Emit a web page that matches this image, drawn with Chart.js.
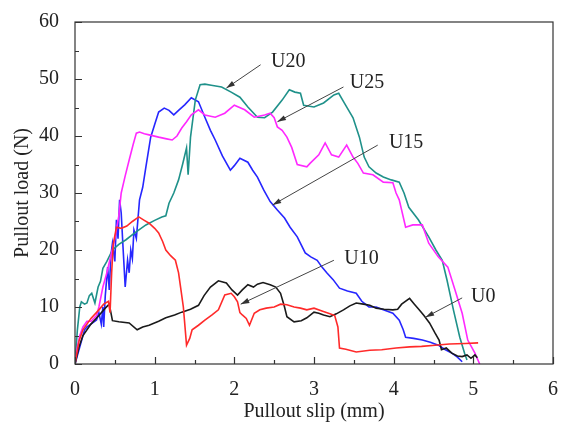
<!DOCTYPE html>
<html>
<head>
<meta charset="utf-8">
<script src="https://cdn.jsdelivr.net/npm/chart.js@4/dist/chart.umd.min.js"></script>
<style>
  html, body { margin: 0; padding: 0; background: #fff; }
  canvas { display: block; }
</style>
</head>
<body>
<canvas id="pullChart" width="564" height="426"></canvas>
<script>
// slip (mm) / load (N)
const u0Slip = [0, 0.05, 0.1, 0.2, 0.3, 0.38, 0.43, 0.47, 0.55, 0.68, 0.78, 0.85, 0.93, 1.05, 1.14, 1.25, 1.34, 1.45, 1.55, 1.62, 1.7, 1.8, 1.9, 1.97, 2.04, 2.1, 2.17, 2.24, 2.29, 2.36, 2.45, 2.52, 2.58, 2.63, 2.66, 2.75, 2.84, 2.91, 3.0, 3.06, 3.12, 3.2, 3.28, 3.37, 3.45, 3.53, 3.62, 3.7, 3.78, 3.88, 3.99, 4.05, 4.1, 4.2, 4.26, 4.32, 4.38, 4.45, 4.52, 4.57, 4.6, 4.66, 4.73, 4.8, 4.86, 4.92, 4.97, 5.02, 5.05];
const u0Load = [0, 3, 5, 7, 8.5, 9.8, 10.5, 7.6, 7.4, 7.2, 6.0, 6.5, 6.8, 7.5, 8.1, 8.6, 9.1, 9.6, 10.3, 12, 13.5, 14.6, 14.2, 13, 12.1, 13, 13.9, 13.5, 14, 14.3, 13.9, 13.5, 12.4, 10, 8.3, 7.4, 7.6, 8.1, 9.1, 8.9, 8.6, 8.3, 8.8, 9.5, 10.2, 10.7, 10.5, 10.3, 9.8, 9.6, 9.5, 9.6, 10.5, 11.5, 10.5, 9.5, 8.5, 7.2, 5.4, 4.2, 2.5, 2.8, 1.9, 1.4, 1.3, 1.6, 1.0, 1.6, 1.1];

const u10Slip = [0, 0.05, 0.1, 0.2, 0.3, 0.36, 0.42, 0.44, 0.46, 0.48, 0.52, 0.58, 0.65, 0.72, 0.8, 0.87, 0.93, 1.0, 1.05, 1.1, 1.14, 1.2, 1.26, 1.3, 1.33, 1.36, 1.4, 1.44, 1.47, 1.55, 1.63, 1.72, 1.8, 1.88, 1.96, 2.0, 2.04, 2.07, 2.1, 2.15, 2.19, 2.25, 2.32, 2.4, 2.5, 2.58, 2.66, 2.75, 2.83, 2.91, 3.0, 3.1, 3.2, 3.26, 3.3, 3.32, 3.4, 3.53, 3.7, 3.85, 4.03, 4.2, 4.35, 4.52, 4.7, 4.9, 5.06];
const u10Load = [0, 4, 6, 8, 9.5, 10.5, 11, 9, 16, 21, 24, 23.8, 24.2, 25, 25.8, 25.2, 24.7, 23.8, 23, 21.5, 20, 19, 18.2, 16, 13, 10, 3.3, 4.5, 6, 6.8, 7.7, 8.6, 9.5, 12.1, 12.4, 11.8, 10.9, 9, 8.6, 8, 6.8, 8.9, 9.5, 9.8, 10, 10.5, 10.4, 10, 9.8, 9.5, 9.8, 9.3, 8.8, 8.5, 6.5, 2.8, 2.6, 2.1, 2.4, 2.5, 2.8, 3.0, 3.1, 3.3, 3.5, 3.6, 3.7];

const u15Slip = [0, 0.02, 0.05, 0.08, 0.12, 0.15, 0.2, 0.27, 0.3, 0.33, 0.35, 0.36, 0.38, 0.41, 0.43, 0.45, 0.47, 0.5, 0.52, 0.54, 0.56, 0.58, 0.6, 0.63, 0.66, 0.68, 0.7, 0.72, 0.74, 0.77, 0.81, 0.85, 0.89, 0.95, 1.0, 1.05, 1.12, 1.18, 1.24, 1.3, 1.38, 1.46, 1.55, 1.63, 1.7, 1.76, 1.85, 1.95, 2.0, 2.07, 2.17, 2.23, 2.29, 2.37, 2.45, 2.54, 2.63, 2.7, 2.79, 2.89, 2.96, 3.04, 3.1, 3.16, 3.24, 3.32, 3.42, 3.53, 3.6, 3.69, 3.78, 3.87, 3.99, 4.07, 4.12, 4.15, 4.25, 4.36, 4.46, 4.56, 4.65, 4.73, 4.8, 4.86];
const u15Load = [0, 1, 2.5, 4, 6, 6.5, 7, 7.7, 9, 7, 10, 6.5, 12, 17, 13, 19, 21.2, 18, 25.3, 22, 28.8, 26.5, 21.2, 13.5, 18.2, 16, 20, 18.5, 23.5, 22, 28.8, 31, 34.6, 39.8, 42, 44.2, 44.9, 44.5, 43.7, 44.5, 45.5, 46.7, 46, 43.3, 41, 39.3, 36.5, 34, 34.8, 36.1, 35.4, 34, 32.8, 30.5, 28.5, 27, 25.6, 24, 22.3, 19.5, 18.8, 18.2, 17, 16, 14.8, 13.3, 12.8, 12.4, 11, 10, 10, 9.5, 8.9, 7.7, 6, 4.7, 4.5, 4.2, 3.8, 3.3, 2.5, 1.9, 1.2, 0.4];

const u20Slip = [0, 0.03, 0.06, 0.08, 0.12, 0.15, 0.18, 0.21, 0.25, 0.29, 0.32, 0.35, 0.4, 0.47, 0.55, 0.64, 0.75, 0.89, 1.0, 1.09, 1.14, 1.18, 1.24, 1.3, 1.35, 1.4, 1.42, 1.45, 1.51, 1.57, 1.63, 1.71, 1.84, 1.96, 2.07, 2.17, 2.29, 2.38, 2.48, 2.6, 2.69, 2.76, 2.83, 2.87, 3.0, 3.12, 3.25, 3.31, 3.38, 3.49, 3.57, 3.63, 3.69, 3.78, 3.87, 3.97, 4.07, 4.13, 4.19, 4.31, 4.44, 4.53, 4.61, 4.67, 4.75, 4.83, 4.89, 4.92];
const u20Load = [0, 6, 10, 10.9, 10.5, 10.7, 12, 12.4, 10.7, 13.5, 14.5, 16.8, 18, 20, 21, 21.8, 23, 24.4, 25.2, 25.8, 26, 28.2, 30, 32.3, 35, 37.9, 33.2, 39.8, 46.3, 49, 49.1, 48.9, 48.6, 47.7, 46.8, 45.1, 43.3, 43.2, 44.2, 46.3, 48.1, 47.7, 47.5, 45.4, 45.1, 45.8, 47.2, 47.5, 45.8, 43.2, 39.8, 36.3, 34.6, 33.5, 32.8, 32.3, 31.9, 30, 27.5, 25.3, 22.3, 20, 18.2, 14.7, 9.5, 4.7, 1.9, 0.7];

const u25Slip = [0, 0.03, 0.06, 0.1, 0.15, 0.2, 0.27, 0.3, 0.35, 0.4, 0.45, 0.5, 0.55, 0.58, 0.63, 0.68, 0.73, 0.77, 0.81, 0.87, 0.93, 1.05, 1.15, 1.22, 1.28, 1.34, 1.4, 1.46, 1.55, 1.63, 1.76, 1.88, 2.0, 2.13, 2.25, 2.38, 2.45, 2.5, 2.54, 2.6, 2.66, 2.72, 2.79, 2.91, 2.95, 3.06, 3.14, 3.22, 3.31, 3.41, 3.49, 3.55, 3.62, 3.74, 3.87, 3.99, 4.03, 4.07, 4.15, 4.24, 4.36, 4.44, 4.56, 4.68, 4.77, 4.86, 4.93, 5.02, 5.08];
const u25Load = [0, 3, 5, 6.5, 7.5, 7.5, 8.5, 10, 13.5, 16, 19, 22, 26, 30, 33, 35.8, 38.5, 40.5, 40.7, 40.4, 40.2, 39.8, 39.5, 39.3, 40, 41.4, 42.5, 43.7, 44.6, 43.7, 43.3, 44, 45.4, 44.6, 43.3, 43.7, 44, 43.2, 41.6, 41, 39.8, 38, 35, 34.6, 35.2, 36.7, 38.8, 36.7, 36.3, 38.4, 36.3, 35.2, 33.5, 33.2, 31.9, 31.8, 30, 28.8, 24, 24.4, 24.4, 21.2, 18.8, 17, 13, 8.9, 4.2, 1.9, 0];

const xTicks = [0, 1, 2, 3, 4, 5, 6];
const yTicks = [0, 10, 20, 30, 40, 50, 60];

// curve labels: text anchor, arrow tail, arrow tip (data units)
const labelNames = ["U20", "U25", "U15", "U10", "U0"];
const labelAt = [[2.46, 53], [3.45, 49.3], [3.94, 38.9], [3.38, 18.4], [4.97, 11.8]];
const arrowFrom = [[2.33, 52.5], [3.37, 48.6], [3.8, 38.4], [3.25, 18.2], [4.86, 11.6]];
const arrowTo = [[1.9, 48.4], [2.54, 42.5], [2.48, 27.9], [2.08, 10.5], [4.4, 8.2]];

const serif = "'Liberation Serif', 'Times New Roman', serif";

function pts(xs, ys) {
    return xs.map((x, i) => ({ x: x, y: ys[i] }));
}

function series(data, color) {
    return {
        data: data,
        borderColor: color,
        borderWidth: 1.6,
        pointRadius: 0,
        showLine: true,
        fill: false,
        tension: 0
    };
}

const frameAndLabels = {
    id: "frameAndLabels",
    afterDatasetsDraw(chart) {
        const c = chart.ctx;
        const a = chart.chartArea;
        const xs = chart.scales.x;
        const ys = chart.scales.y;
        c.save();
        c.strokeStyle = "#333";
        c.lineWidth = 1.2;
        c.strokeRect(a.left, a.top, a.right - a.left, a.bottom - a.top);

        // inward ticks on bottom and left
        c.beginPath();
        for (let v = 0; v <= 6.001; v += 0.5) {
            const px = Math.round(xs.getPixelForValue(v)) + 0.5;
            const len = Math.abs(v - Math.round(v)) < 0.01 ? 7 : 4;
            c.moveTo(px, a.bottom);
            c.lineTo(px, a.bottom - len);
        }
        for (let v = 0; v <= 60.01; v += 5) {
            const py = Math.round(ys.getPixelForValue(v)) + 0.5;
            const len = v % 10 === 0 ? 7 : 4;
            c.moveTo(a.left, py);
            c.lineTo(a.left + len, py);
        }
        c.stroke();

        // annotation arrows
        c.strokeStyle = "#444";
        c.lineWidth = 1;
        labelNames.forEach((name, i) => {
            const x1 = xs.getPixelForValue(arrowFrom[i][0]);
            const y1 = ys.getPixelForValue(arrowFrom[i][1]);
            const x2 = xs.getPixelForValue(arrowTo[i][0]);
            const y2 = ys.getPixelForValue(arrowTo[i][1]);
            const ang = Math.atan2(y2 - y1, x2 - x1);
            c.beginPath();
            c.moveTo(x1, y1);
            c.lineTo(x2, y2);
            c.stroke();
            c.fillStyle = "#333";
            c.beginPath();
            c.moveTo(x2, y2);
            c.lineTo(x2 - 9 * Math.cos(ang - 0.3), y2 - 9 * Math.sin(ang - 0.3));
            c.lineTo(x2 - 9 * Math.cos(ang + 0.3), y2 - 9 * Math.sin(ang + 0.3));
            c.closePath();
            c.fill();

            c.font = "20px " + serif;
            c.fillStyle = "#222";
            c.textAlign = "left";
            c.textBaseline = "middle";
            c.fillText(name, xs.getPixelForValue(labelAt[i][0]), ys.getPixelForValue(labelAt[i][1]));
        });
        c.restore();
    }
};

const ctx = document.getElementById("pullChart").getContext("2d");

const pullChart = new Chart(ctx, {
    type: "scatter",
    data: {
        datasets: [
            series(pts(u10Slip, u10Load), "#ff2a2a"),
            series(pts(u0Slip, u0Load), "#1a1a1a"),
            series(pts(u25Slip, u25Load), "#ff28ff"),
            series(pts(u20Slip, u20Load), "#1f918a"),
            series(pts(u15Slip, u15Load), "#2626ff")
        ]
    },
    options: {
        responsive: false,
        animation: false,
        layout: { padding: { left: 0, right: 5, top: 22, bottom: 0 } },
        plugins: {
            legend: { display: false },
            tooltip: { enabled: false }
        },
        scales: {
            x: {
                type: "linear",
                min: 0,
                max: 6,
                afterBuildTicks: (s) => { s.ticks = xTicks.map(v => ({ value: v })); },
                afterFit: (s) => { s.height = 62; },
                ticks: { color: "#222", padding: 6, font: { family: serif, size: 20 } },
                grid: { display: false },
                border: { display: false },
                title: {
                    display: true,
                    text: "Pullout slip (mm)",
                    color: "#222",
                    padding: { top: 2, bottom: 2 },
                    font: { family: serif, size: 20 }
                }
            },
            y: {
                type: "linear",
                min: 0,
                max: 60,
                afterBuildTicks: (s) => { s.ticks = yTicks.map(v => ({ value: v })); },
                afterFit: (s) => { s.width = 75; },
                ticks: { color: "#222", padding: 8, font: { family: serif, size: 20 } },
                grid: { display: false },
                border: { display: false },
                title: {
                    display: true,
                    text: "Pullout load (N)",
                    color: "#222",
                    padding: { top: 11, bottom: 4 },
                    font: { family: serif, size: 20 }
                }
            }
        }
    },
    plugins: [frameAndLabels]
});
</script>
</body>
</html>
